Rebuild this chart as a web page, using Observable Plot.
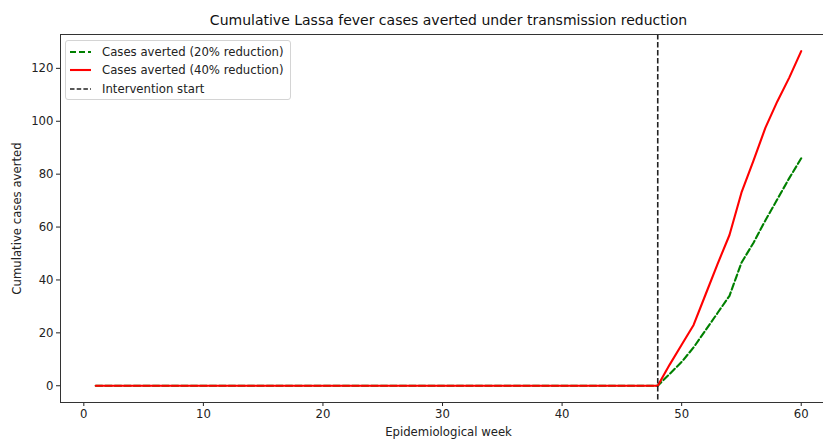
<!DOCTYPE html>
<html>
<head>
<meta charset="utf-8">
<script src="https://cdn.jsdelivr.net/npm/d3@7"></script>
<script src="https://cdn.jsdelivr.net/npm/@observablehq/plot@0.6"></script>
<style>
  html, body { margin: 0; padding: 0; background: #fff; overflow: hidden; width: 823px; height: 439px; }
  #wrap { position: relative; width: 850px; height: 450px; font-family: "DejaVu Sans", sans-serif; }
  #legend { position: absolute; left: 65px; top: 40px; width: 224px; height: 58px;
    border: 1px solid #d4d4d4; border-radius: 3px; background: rgba(255,255,255,0.8);
    font-family: "DejaVu Sans", sans-serif; font-size: 11.7px; color: #222; }
  .row { position: absolute; left: 0; height: 16px; display: flex; align-items: center; white-space: nowrap; }
  .row svg { margin-left: 4px; margin-right: 11px; }
</style>
</head>
<body>
<div id="wrap"></div>
<script>
const weeks = [1,2,3,4,5,6,7,8,9,10,11,12,13,14,15,16,17,18,19,20,21,22,23,24,25,26,27,28,29,30,
  31,32,33,34,35,36,37,38,39,40,41,42,43,44,45,46,47,48,49,50,51,52,53,54,55,56,57,58,59,60];
const averted20 = [0,0,0,0,0,0,0,0,0,0,0,0,0,0,0,0,0,0,0,0,0,0,0,0,0,0,0,0,0,0,
  0,0,0,0,0,0,0,0,0,0,0,0,0,0,0,0,0,0,4.5,9,14.5,21,27.5,34,46.5,54,62.5,70.5,78.5,86];
const averted40 = [0,0,0,0,0,0,0,0,0,0,0,0,0,0,0,0,0,0,0,0,0,0,0,0,0,0,0,0,0,0,
  0,0,0,0,0,0,0,0,0,0,0,0,0,0,0,0,0,0,8,15.5,23,34.5,46,57,73,85,97.5,107.5,116.5,126.5];
const interventionWeek = 48;
const xTicks = [0,10,20,30,40,50,60];
const yTicks = [0,20,40,60,80,100,120];
const titleText = "Cumulative Lassa fever cases averted under transmission reduction";
const xLabel = "Epidemiological week";
const yLabel = "Cumulative cases averted";
const seriesNames = ["Cases averted (20% reduction)", "Cases averted (40% reduction)", "Intervention start"];

const rows20 = weeks.map((w, i) => ({week: w, value: averted20[i]}));
const rows40 = weeks.map((w, i) => ({week: w, value: averted40[i]}));

const font = "DejaVu Sans, sans-serif";
const chart = Plot.plot({
  width: 850,
  height: 450,
  marginLeft: 60,
  marginRight: 14,
  marginTop: 34,
  marginBottom: 48,
  style: {fontFamily: font, fontSize: "11.7px", color: "#222", background: "transparent"},
  x: {domain: [-1.95, 62.95]},
  y: {domain: [-6.33, 132.8]},
  marks: [
    Plot.axisX({ticks: xTicks, tickSize: 4, tickPadding: 3, label: null, fontSize: 11.7}),
    Plot.axisY({ticks: yTicks, tickSize: 4, tickPadding: 3, label: null, fontSize: 11.7}),
    Plot.line(rows20, {x: "week", y: "value", stroke: "#008000", strokeWidth: 2.1, strokeDasharray: "6.5,3"}),
    Plot.line(rows40, {x: "week", y: "value", stroke: "#ff0000", strokeWidth: 2.1}),
    Plot.ruleX([interventionWeek], {stroke: "#222", strokeWidth: 1.6, strokeDasharray: "5.5,2.5"}),
    Plot.frame({stroke: "#333", strokeWidth: 1}),
    Plot.text([titleText], {frameAnchor: "top", dy: -14, fontSize: 14, lineAnchor: "middle", textAnchor: "middle", fill: "#111"}),
    Plot.text([xLabel], {frameAnchor: "bottom", dy: 30, fontSize: 11.7, lineAnchor: "middle", textAnchor: "middle", fill: "#222"}),
    Plot.text([yLabel], {frameAnchor: "left", dx: -43, rotate: -90, fontSize: 11.7, lineAnchor: "middle", textAnchor: "middle", fill: "#222"})
  ]
});
const wrap = document.getElementById("wrap");
wrap.appendChild(chart);

// legend
const legend = document.createElement("div");
legend.id = "legend";
const styles = [
  {stroke: "#008000", dash: "6,3", width: 2.1},
  {stroke: "#ff0000", dash: null, width: 2.1},
  {stroke: "#222", dash: "4.5,2.2", width: 1.6}
];
const rowTops = [3, 21, 40];
seriesNames.forEach((name, i) => {
  const row = document.createElement("div");
  row.className = "row";
  row.style.top = rowTops[i] + "px";
  const s = styles[i];
  row.innerHTML = `<svg width="21" height="6"><line x1="0" x2="21" y1="3" y2="3" stroke="${s.stroke}" stroke-width="${s.width}" ${s.dash ? `stroke-dasharray="${s.dash}"` : ""}/></svg><span>${name}</span>`;
  legend.appendChild(row);
});
wrap.appendChild(legend);
</script>
</body>
</html>
